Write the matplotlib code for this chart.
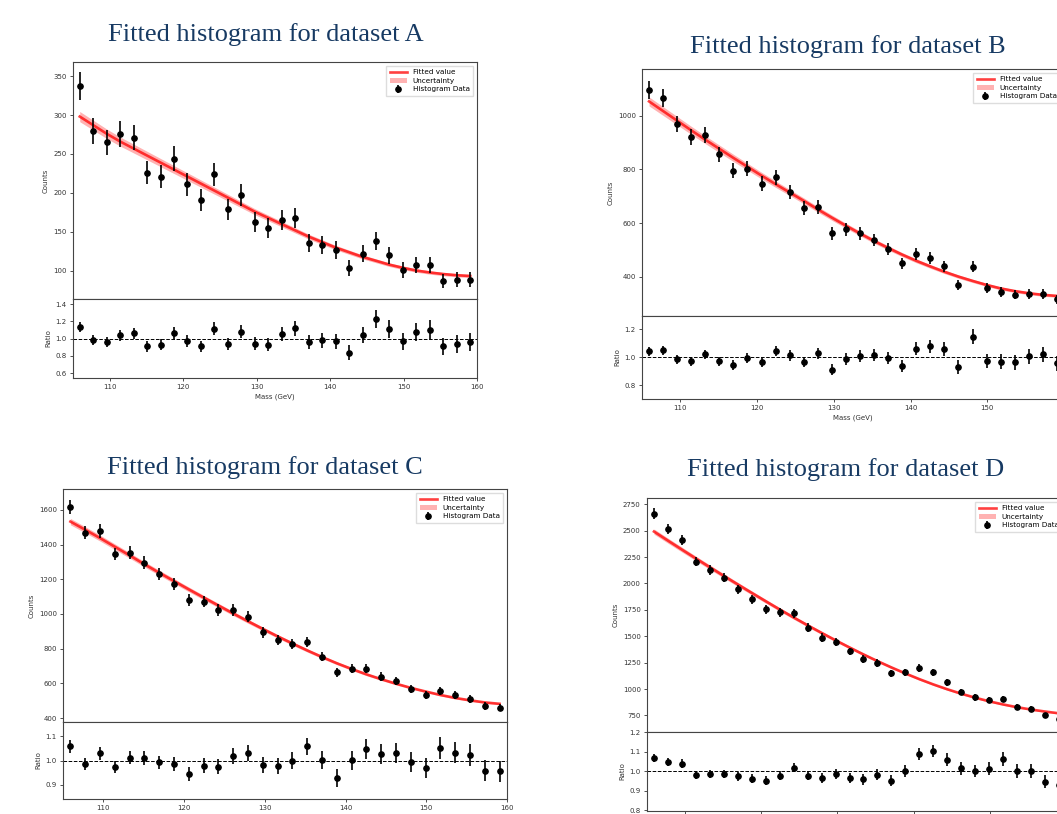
import numpy as np
import matplotlib
matplotlib.use("Agg")
import matplotlib.pyplot as plt
from matplotlib.ticker import MultipleLocator
from matplotlib.lines import Line2D
from matplotlib.patches import Patch

W, H = 1057, 814

# bin centres: 30 bins between 105 and 160 GeV
edges = np.linspace(105, 160, 31)
centers = 0.5 * (edges[:-1] + edges[1:])

# dataset A
counts_a = [337, 280, 265, 276, 271, 226, 221, 244, 211, 191, 224, 179, 197, 163, 155,
            165, 168, 136, 133, 127, 104, 122, 138, 120, 101, 108, 108, 87, 89, 89]
fit_a = [298, 287, 276, 266, 257, 248, 239, 230, 221, 212, 203, 194, 185, 176, 168,
         160, 152, 144, 137, 130, 124, 118, 113, 108, 104, 100.5, 98, 96, 94.5, 93.5]
ratio_a = [1.135, 0.98, 0.96, 1.04, 1.06, 0.91, 0.93, 1.07, 0.97, 0.91, 1.115, 0.94, 1.08, 0.94, 0.93,
           1.055, 1.12, 0.96, 0.98, 0.97, 0.84, 1.045, 1.225, 1.11, 0.97, 1.08, 1.105, 0.91, 0.94, 0.96]

# dataset B
counts_b = [1097, 1066, 970, 920, 929, 856, 796, 803, 747, 771, 716, 656, 661, 562, 577,
            562, 537, 503, 450, 483, 470, 439, 370, 437, 356, 343, 333, 335, 335, 315]
fit_b = [1054, 1018, 982, 946, 911, 877, 843, 810, 777, 745, 714, 683, 651, 620, 590,
         561, 533, 507, 482, 459, 438, 418, 400, 384, 369, 356, 346, 338, 332, 328]
ratio_b = [1.043, 1.048, 0.986, 0.971, 1.019, 0.971, 0.945, 0.995, 0.962, 1.043, 1.012, 0.964, 1.026, 0.912, 0.986,
           1.01, 1.014, 0.995, 0.936, 1.06, 1.076, 1.055, 0.929, 1.145, 0.974, 0.967, 0.962, 1.005, 1.019, 0.955]

# dataset C
counts_c = [1619, 1469, 1479, 1346, 1354, 1296, 1229, 1171, 1081, 1071, 1023, 1023, 985, 894, 850,
            827, 837, 754, 663, 683, 683, 638, 613, 567, 533, 556, 533, 510, 469, 460]
fit_c = [1533, 1486, 1438, 1388, 1338, 1287, 1238, 1190, 1142, 1095, 1049, 1003, 958, 914, 871,
         830, 790, 752, 716, 683, 652, 624, 598, 574, 553, 533, 516, 502, 490, 482]
ratio_c = [1.058, 0.986, 1.03, 0.973, 1.012, 1.01, 0.992, 0.984, 0.945, 0.979, 0.975, 1.019, 1.03, 0.981, 0.977,
           0.999, 1.058, 1.003, 0.927, 1.001, 1.048, 1.027, 1.03, 0.995, 0.968, 1.051, 1.033, 1.023, 0.958, 0.955]

# dataset D
counts_d = [2659, 2517, 2413, 2208, 2129, 2056, 1946, 1851, 1756, 1728, 1719, 1583, 1488, 1450, 1356,
            1283, 1245, 1151, 1157, 1198, 1157, 1062, 971, 920, 898, 905, 829, 813, 750, 715]
fit_d = [2492, 2406, 2321, 2237, 2154, 2072, 1991, 1911, 1832, 1754, 1678, 1604, 1532, 1462, 1394,
         1328, 1265, 1205, 1148, 1094, 1044, 998, 956, 918, 884, 854, 828, 806, 787, 770]
ratio_d = [1.067, 1.047, 1.04, 0.983, 0.986, 0.986, 0.974, 0.962, 0.952, 0.978, 1.019, 0.978, 0.967, 0.986, 0.967,
           0.959, 0.983, 0.952, 1.003, 1.09, 1.105, 1.06, 1.016, 1.002, 1.014, 1.064, 1.003, 1.003, 0.948, 0.93]

# relative half width of the fit uncertainty band
band_a, band_b, band_c, band_d = 0.022, 0.016, 0.012, 0.010

TITLE_COLOR = "#173a63"

fig = plt.figure(figsize=(W / 100, H / 100), dpi=100)


def px_axes(l, t, r, b):
    return fig.add_axes([l / W, 1 - b / H, (r - l) / W, (b - t) / H])


def style(ax):
    for s in ax.spines.values():
        s.set_color("#444444")
        s.set_linewidth(0.8)
    ax.tick_params(labelsize=5, length=2.5, width=0.6, colors="#333333", pad=2)


def panel(name, box, counts, fit, ratio, band, ylim, ystep, rlim, rstep, title_xy):
    l, t, m, r, b = box
    counts = np.array(counts, dtype=float)
    fit = np.array(fit, dtype=float)
    ratio = np.array(ratio, dtype=float)
    err = np.sqrt(counts)

    ax = px_axes(l, t, r, m)
    rax = px_axes(l, m, r, b)

    band_art = ax.fill_between(centers, fit * (1 - band), fit * (1 + band),
                               color="red", alpha=0.3, lw=0)
    line, = ax.plot(centers, fit, color="red", lw=1.9, alpha=0.75)
    eb = ax.errorbar(centers, counts, yerr=err, fmt="o", color="black", ms=3.8, lw=1.2, capsize=0)
    ax.set_xlim(105, 160)
    ax.set_ylim(*ylim)
    ax.yaxis.set_major_locator(MultipleLocator(ystep))
    ax.set_ylabel("Counts", fontsize=5, color="#333333", labelpad=3)
    style(ax)
    ax.tick_params(axis="x", bottom=False, labelbottom=False)

    ax.legend([line, band_art, eb], ["Fitted value", "Uncertainty", "Histogram Data"],
              loc="upper right", fontsize=5.2, handlelength=2.4, borderpad=0.5,
              labelspacing=0.35, framealpha=1, fancybox=False, edgecolor="#dddddd")

    rax.errorbar(centers, ratio, yerr=ratio / np.sqrt(counts), fmt="o", color="black",
                 ms=3.8, lw=1.2, capsize=0)
    rax.axhline(1.0, color="black", ls="--", lw=0.7)
    rax.set_xlim(105, 160)
    rax.set_ylim(*rlim)
    rax.yaxis.set_major_locator(MultipleLocator(rstep))
    rax.xaxis.set_major_locator(MultipleLocator(10))
    rax.set_ylabel("Ratio", fontsize=5, color="#333333", labelpad=3)
    rax.set_xlabel("Mass (GeV)", fontsize=5, color="#333333", labelpad=2)
    style(rax)

    fig.text(title_xy[0] / W, 1 - title_xy[1] / H, "Fitted histogram for dataset " + name,
             ha="center", va="center", fontsize=19, family="Liberation Serif",
             color=TITLE_COLOR)


panel("A", (73, 62, 299, 477, 378), counts_a, fit_a, ratio_a, band_a,
      (64, 368), 50, (0.546, 1.458), 0.2, (266, 35))
panel("B", (642, 69, 316, 1064, 399), counts_b, fit_b, ratio_b, band_b,
      (253, 1175), 200, (0.702, 1.293), 0.2, (848, 47))
panel("C", (63, 489, 722, 507, 799), counts_c, fit_c, ratio_c, band_c,
      (377, 1721), 200, (0.841, 1.159), 0.1, (265, 468))
panel("D", (647, 498, 732, 1066, 811), counts_d, fit_d, ratio_d, band_d,
      (593, 2810), 250, (0.797, 1.202), 0.1, (846, 470))

fig.savefig("out.png", dpi=100)
